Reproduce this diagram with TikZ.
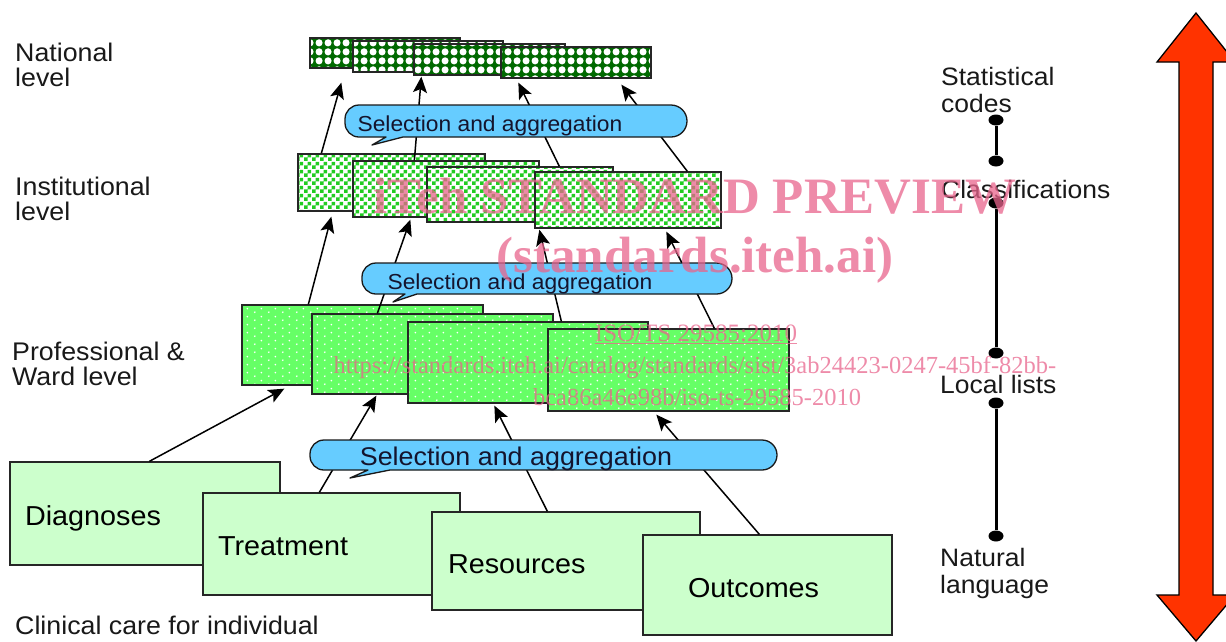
\documentclass[tikz,border=0pt]{standalone}
\usepackage{fontspec}
\setmainfont{Liberation Sans}[FakeStretch=1.05]
\newfontfamily\wmfont{Liberation Serif}
\usetikzlibrary{patterns,arrows.meta,shapes.geometric,calc}

\pgfdeclarepatternformonly{natdots}{\pgfqpoint{0pt}{0pt}}{\pgfqpoint{9pt}{9pt}}{\pgfqpoint{9pt}{9pt}}{%
  \pgfpathcircle{\pgfqpoint{4.5pt}{4.5pt}}{3.9pt}\pgfusepath{fill}}
\pgfdeclarepatternformonly{chk}{\pgfqpoint{0pt}{0pt}}{\pgfqpoint{8pt}{8pt}}{\pgfqpoint{8pt}{8pt}}{%
  \pgfpathrectangle{\pgfqpoint{0pt}{0pt}}{\pgfqpoint{4pt}{4pt}}%
  \pgfpathrectangle{\pgfqpoint{4pt}{4pt}}{\pgfqpoint{4pt}{4pt}}\pgfusepath{fill}}
\pgfdeclarepatternformonly{fdots}{\pgfqpoint{0pt}{0pt}}{\pgfqpoint{14pt}{8pt}}{\pgfqpoint{14pt}{8pt}}{%
  \pgfpathcircle{\pgfqpoint{3pt}{2pt}}{1pt}\pgfpathcircle{\pgfqpoint{10pt}{6pt}}{1pt}\pgfusepath{fill}}

\definecolor{natgreen}{RGB}{0,105,0}
\definecolor{chkgreen}{RGB}{34,204,34}
\definecolor{profgreen}{RGB}{102,255,102}
\definecolor{carebg}{RGB}{204,255,204}
\definecolor{bubblue}{RGB}{102,204,255}
\definecolor{arrred}{RGB}{255,51,0}
\definecolor{wmpink}{RGB}{232,100,140}
\definecolor{bubtext}{RGB}{20,20,45}

\newcommand{\lblfont}{\fontsize{25.5}{25}\selectfont}
\newcommand{\sclfont}{\fontsize{25.2}{27}\selectfont}
\newcommand{\carefont}{\fontsize{27.4}{30}\selectfont}
\newcommand{\bubfontA}{\fontsize{21.7}{24}\selectfont}
\newcommand{\bubfontB}{\fontsize{25.6}{28}\selectfont}

\tikzset{
 box/.style={draw=black!85, line width=1.3pt, inner sep=0pt, anchor=center},
 natbox/.style={box, preaction={fill=natgreen}, pattern=natdots, pattern color=white},
 insbox/.style={box, preaction={fill=white}, pattern=chk, pattern color=chkgreen},
 profbox/.style={box, preaction={fill=profgreen}, pattern=fdots, pattern color=white},
 carebox/.style={box, fill=carebg, font=\carefont, align=left, inner ysep=0pt, text depth=0pt},
 conn/.style={line width=1.5pt, -{Stealth[length=16pt,width=14pt,inset=3.5pt]}},
 bubble/.style={draw=black!90, line width=1.3pt, fill=bubblue, line join=round},
 btext/.style={text=bubtext, inner sep=0pt, anchor=base},
 lbl/.style={align=left, inner sep=0pt, anchor=west, text=black!90},
 sdot/.style={ellipse, fill=black, minimum width=15pt, minimum height=11pt, inner sep=0pt},
 scl/.style={line width=3pt},
 wm/.style={text=wmpink, opacity=0.75, inner sep=0pt, anchor=base},
}

\begin{document}
\begin{tikzpicture}[x=1pt,y=-1pt]
\useasboundingbox (0,0) rectangle (1226,641);
\clip (0,0) rectangle (1226,641);

% National level boxes
\node[natbox, minimum width=150pt, minimum height=30pt] (N1) at (385,53) {};
\node[natbox, minimum width=150pt, minimum height=31pt] (N2) at (428,56.5) {};
\node[natbox, minimum width=151pt, minimum height=31pt] (N3) at (489.5,59.5) {};
\node[natbox, minimum width=150pt, minimum height=31pt] (N4) at (576,62.5) {};

% Institutional level boxes
\node[insbox, minimum width=187pt, minimum height=57pt] (I1) at (391.5,182.5) {};
\node[insbox, minimum width=186pt, minimum height=56pt] (I2) at (446,189) {};
\node[insbox, minimum width=186pt, minimum height=55pt] (I3) at (520,194.5) {};
\node[insbox, minimum width=186pt, minimum height=56pt] (I4) at (628,200) {};

% Professional & ward level boxes
\node[profbox, minimum width=241pt, minimum height=80pt] (P1) at (362.5,345) {};
\node[profbox, minimum width=241pt, minimum height=80pt] (P2) at (432.5,354) {};
\node[profbox, minimum width=240pt, minimum height=81pt] (P3) at (528,362.5) {};
\node[profbox, minimum width=241pt, minimum height=82pt] (P4) at (668.5,370) {};

% Clinical care boxes
\node[carebox, minimum height=103pt, text width=240pt, inner xsep=15pt, text height=24.6pt] (diag) at (145,513.5) {Diagnoses};
\node[carebox, minimum height=102pt, text width=227pt, inner xsep=15pt, text height=23.6pt] (treat) at (331.5,544) {Treatment};
\node[carebox, minimum height=98pt, text width=236pt, inner xsep=16pt, text height=25.6pt] (res) at (566,561) {Resources};
\node[carebox, minimum height=100pt, text width=159pt, inner xsep=45pt, text height=25.6pt] (out) at (767.5,585) {Outcomes};

% connectors: clinical -> professional
\draw[conn] ([xshift=140pt]diag.north west) -- ([xshift=43pt,yshift=-3pt]P1.south west);
\draw[conn] ([xshift=117pt]treat.north west) -- ([xshift=65pt,yshift=-1pt]P2.south west);
\draw[conn] ([xshift=116pt]res.north west) -- ([xshift=87pt,yshift=-2pt]P3.south west);
\draw[conn] ([xshift=117pt]out.north west) -- ([xshift=109pt,yshift=-3pt]P4.south west);

% professional -> institutional
\draw[conn] ([xshift=67pt]P1.north west) -- ([xshift=34pt,yshift=-5pt]I1.south west);
\draw[conn] ([xshift=66pt]P2.north west) -- ([xshift=58pt,yshift=-2pt]I2.south west);
\draw[conn] ([xshift=154pt]P3.north west) -- ([xshift=5pt,yshift=-1pt]I4.south west);
\draw[conn] ([xshift=167pt]P4.north west) -- ([xshift=132pt,yshift=-3pt]I4.south west);

% institutional -> national
\draw[conn] ([xshift=24pt]I1.north west) -- ([xshift=32pt,yshift=-14pt]N1.south west);
\draw[conn] ([xshift=62pt]I2.north west) -- ([xshift=8pt,yshift=-1pt]N3.south west);
\draw[conn] ([xshift=133pt]I3.north west) -- ([xshift=18pt,yshift=-4pt]N4.south west);
\draw[conn] ([xshift=153pt]I4.north west) -- ([xshift=121pt,yshift=-6pt]N4.south west);

% Selection and aggregation bubbles
\draw[bubble] (359,105) -- (671,105) arc[start angle=-90,end angle=90,radius=16]
  -- (403,137) -- (372,145) -- (386,137) -- (359,137) arc[start angle=90,end angle=180,radius=14]
  -- (345,119) arc[start angle=180,end angle=270,radius=14] -- cycle;
\node[btext, font=\bubfontA] (sa1) at (490,131.5) {Selection and aggregation};

\draw[bubble] (376,263) -- (716.5,263) arc[start angle=-90,end angle=90,radius=15.5]
  -- (417,294) -- (393,302) -- (405,294) -- (376,294) arc[start angle=90,end angle=180,radius=14]
  -- (362,277) arc[start angle=180,end angle=270,radius=14] -- cycle;
\node[btext, font=\bubfontA] (sa2) at (520,289.5) {Selection and aggregation};

\draw[bubble] (324,440) -- (762,440) arc[start angle=-90,end angle=90,radius=15]
  -- (390,470) -- (350,478) -- (368,470) -- (324,470) arc[start angle=90,end angle=180,radius=14]
  -- (310,454) arc[start angle=180,end angle=270,radius=14] -- cycle;
\node[btext, font=\bubfontB] (sa3) at (516,465.5) {Selection and aggregation};

% left labels
\node[lbl, font=\lblfont] (lnat) at (15,64.5) {National\\level};
\node[lbl, font=\lblfont] (lins) at (15,198.5) {Institutional\\level};
\node[lbl, font=\lblfont] (lpro) at (12,364) {Professional \&\\Ward level};
\node[lbl, font=\lblfont] (lcli) at (15,625) {Clinical care for individual};

% right scale
\node[sdot] (s1) at (996,120) {};
\node[sdot] (s2) at (996,161) {};
\node[sdot] (s3) at (996,203) {};
\node[sdot] (s4) at (996,353) {};
\node[sdot] (s5) at (996,403) {};
\node[sdot] (s6) at (996,536) {};
\draw[scl] (s1) -- (s2);
\draw[scl] (s3) -- (s4);
\draw[scl] (s5) -- (s6);
\node[lbl, font=\sclfont] (rstat) at (941,89.5) {Statistical\\codes};
\node[lbl, font=\sclfont] (rclass) at (941,189) {Classifications};
\node[lbl, font=\sclfont] (rloc) at (940,384) {Local lists};
\node[lbl, font=\sclfont] (rnat) at (940,573) {Natural\\language};

% red double arrow
\draw[line width=1.3pt, fill=arrred, line join=miter] (1179,62) -- (1157,62) -- (1196,13) -- (1235,62)
  -- (1213,62) -- (1213,595) -- (1235,595) -- (1196,641) -- (1157,595) -- (1179,595) -- cycle;

% watermark
\node[wm, font=\wmfont\bfseries\fontsize{51}{51}\selectfont] (wm1) at (695,213) {iTeh STANDARD PREVIEW};
\node[wm, font=\wmfont\bfseries\fontsize{51}{51}\selectfont] (wm2) at (695,272) {(standards.iteh.ai)};
\node[wm, font=\wmfont\fontsize{25}{25}\selectfont] (wm3) at (696,341) {\underline{ISO/TS 29585:2010}};
\node[wm, font=\wmfont\fontsize{24.5}{24.5}\selectfont] (wm4) at (695,373) {https://standards.iteh.ai/catalog/standards/sist/3ab24423-0247-45bf-82bb-};
\node[wm, font=\wmfont\fontsize{24.5}{24.5}\selectfont] (wm5) at (697,405) {bca86a46e98b/iso-ts-29585-2010};
\end{tikzpicture}
\end{document}
